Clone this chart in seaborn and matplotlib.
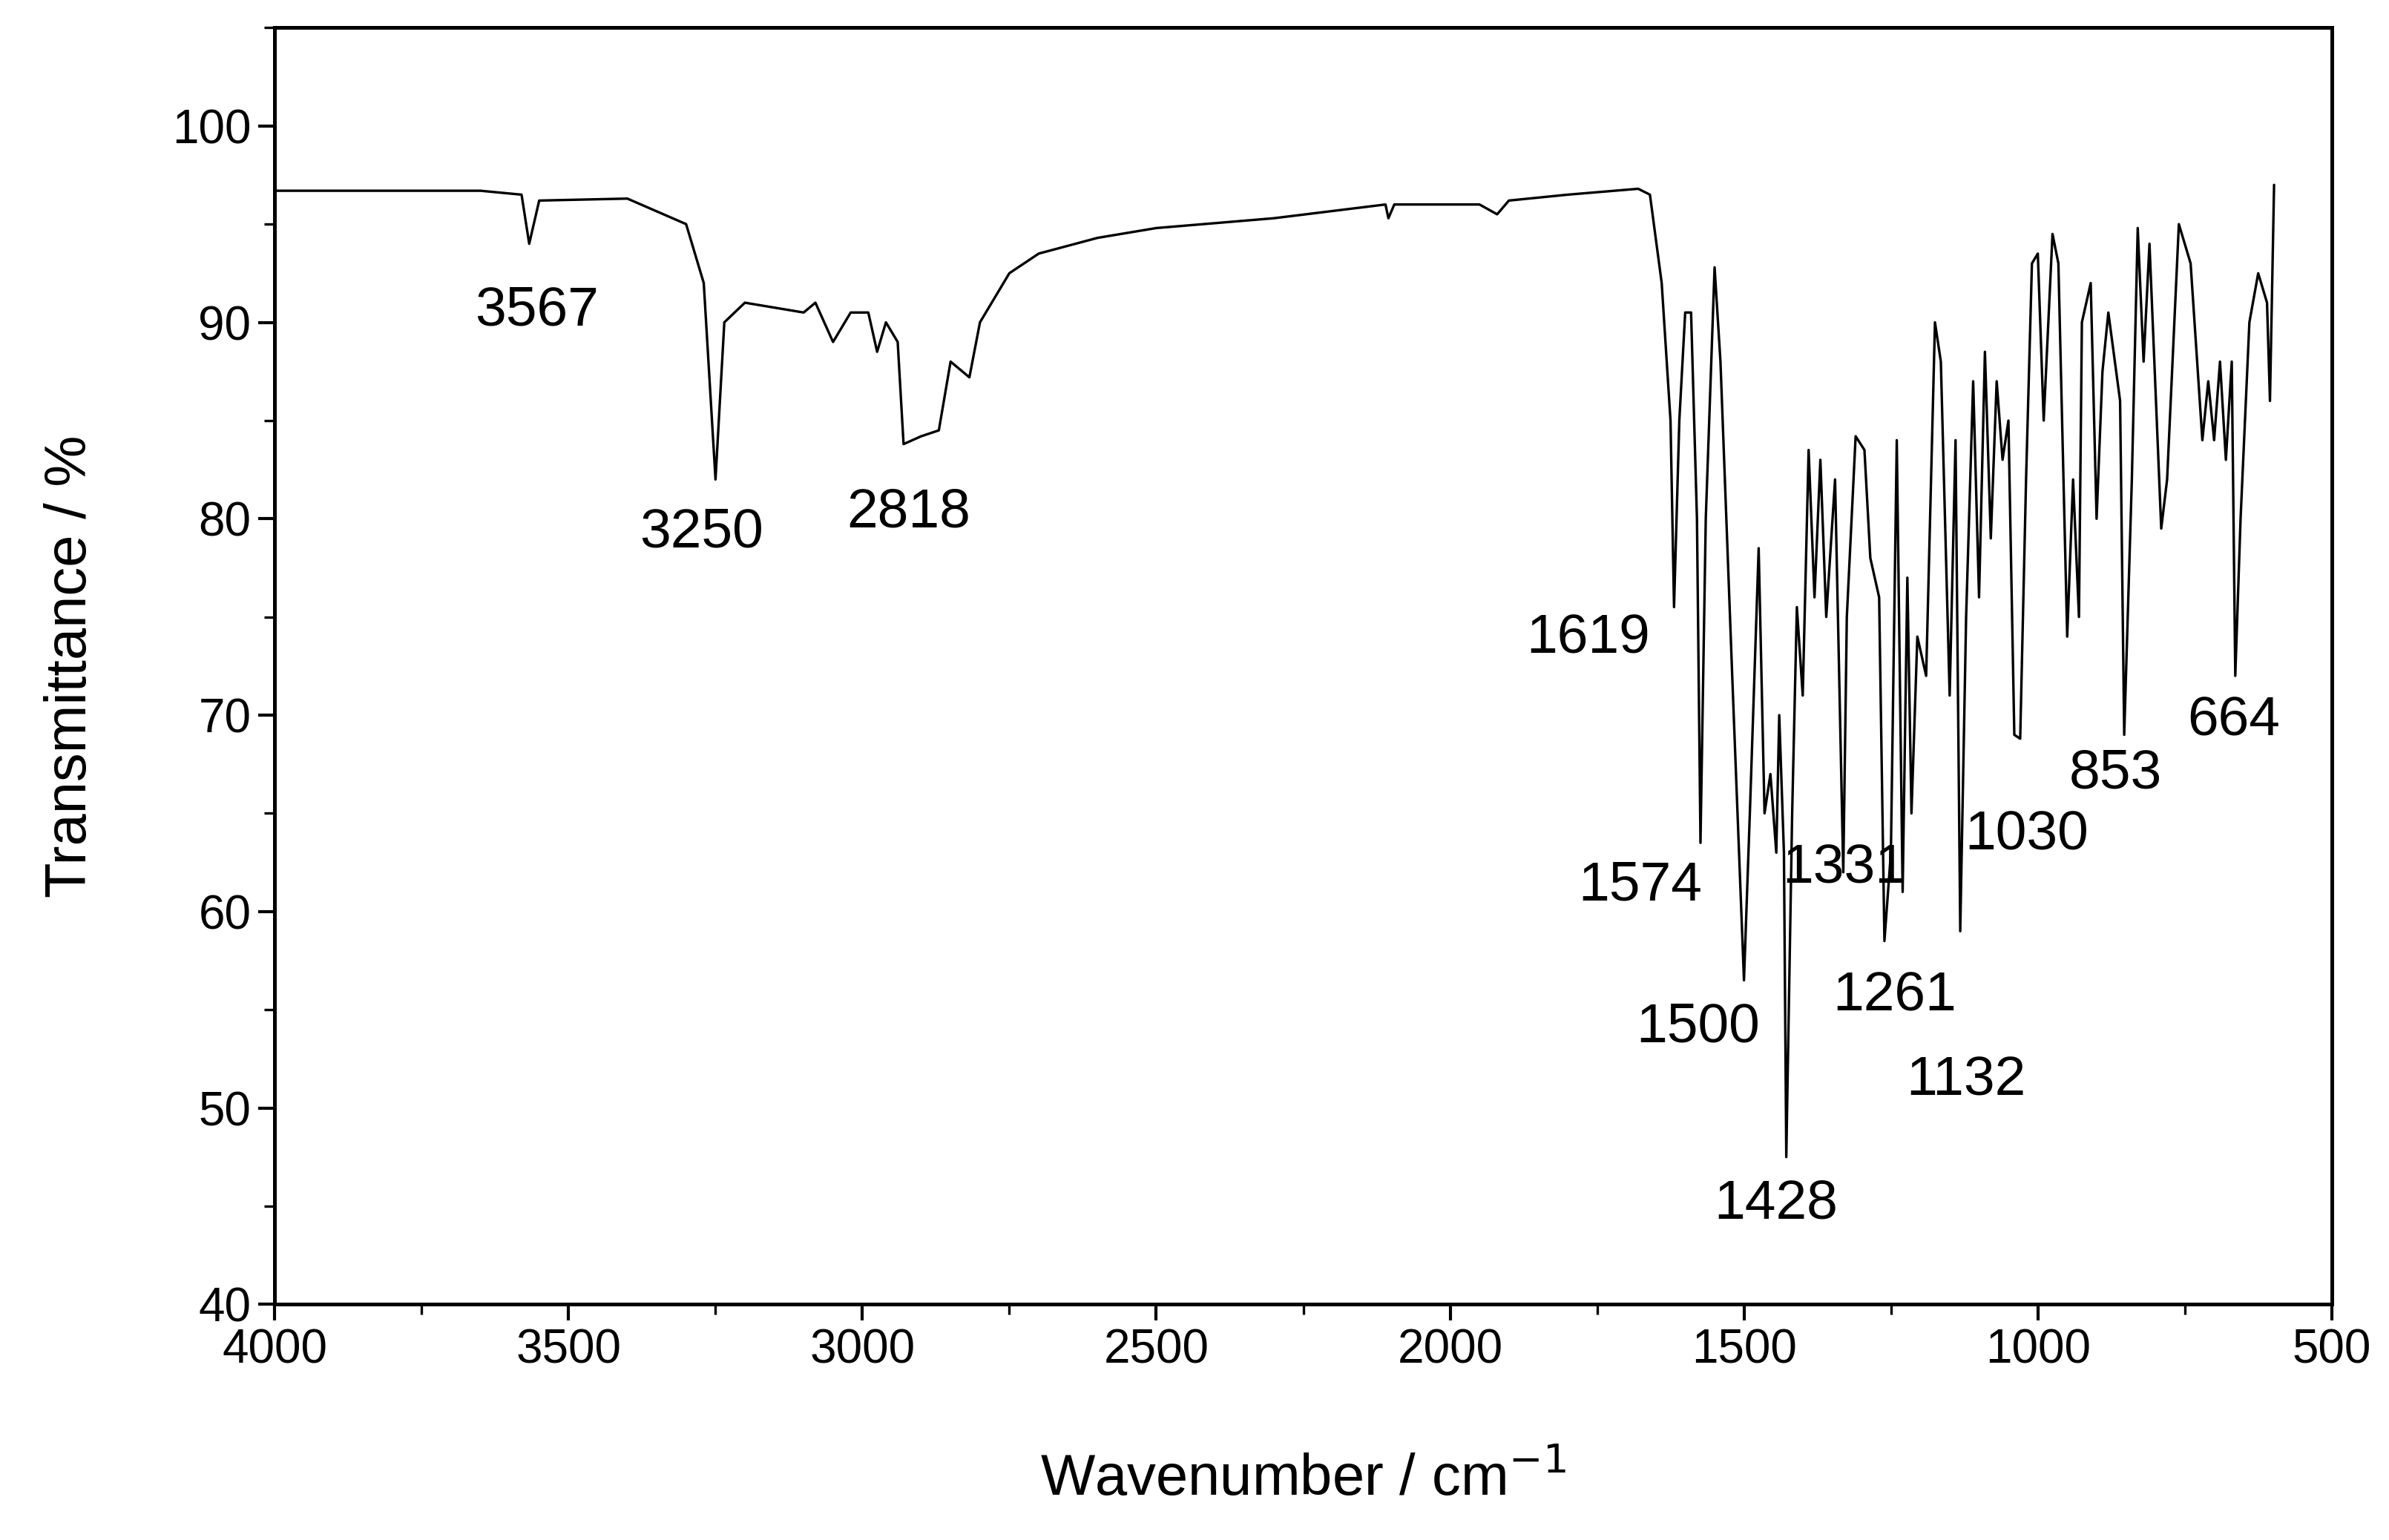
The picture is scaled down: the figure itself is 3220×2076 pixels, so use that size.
import matplotlib
matplotlib.use("Agg")
import matplotlib.pyplot as plt
import seaborn as sns
import pandas as pd
from matplotlib.ticker import MultipleLocator

wavenumber = [4000,3650,3580,3567,3550,3400,3300,3270,3250,3235,3200,3100,3080,3050,3020,2990,2975,2960,2940,2930,2900,2870,2850,2830,2818,2800,2750,2700,2600,2500,2300,2110,2105,2095,1950,1920,1900,1800,1680,1660,1640,1625,1619,1610,1600,1590,1580,1574,1565,1550,1540,1520,1500,1490,1475,1465,1455,1445,1440,1432,1428,1418,1410,1400,1390,1380,1370,1360,1345,1331,1325,1310,1295,1285,1270,1261,1250,1240,1230,1222,1215,1205,1190,1175,1165,1150,1140,1132,1122,1110,1100,1090,1080,1070,1060,1050,1040,1030,1020,1010,1000,990,975,965,950,940,930,925,910,900,890,880,860,853,840,830,820,810,790,780,760,740,720,710,700,690,680,670,664,655,640,625,610,605,598]
transmittance = [96.7,96.7,96.5,94.0,96.2,96.3,95,92,82,90,91,90.5,91,89,90.5,90.5,88.5,90,89,83.8,84.2,84.5,88,87.5,87.2,90,92.5,93.5,94.3,94.8,95.3,96,95.3,96,96,95.5,96.2,96.5,96.8,96.5,92,85,75.5,85,90.5,90.5,80,63.5,80,92.8,88,72,56.5,65,78.5,65,67,63,70,63,47.5,65,75.5,71,83.5,76,83,75,82,62,75,84.2,83.5,78,76,58.5,63,84,61,77,65,74,72,90,88,71,84,59,75,87,76,88.5,79,87,83,85,69,68.8,82,93,93.5,85,94.5,93,74,82,75,90,92,80,87.5,90.5,86,69,82,94.8,88,94,79.5,82,95,93,84,87,84,88,83,88,72,80,90,92.5,91,86,97]

peak_labels = ["3567","3250","2818","1619","1574","1500","1428","1331","1261","1132","1030","853","664"]
label_x = [3554,3274,2922,1765,1677,1578,1446,1330,1244,1122,1019,868,666]
label_y = [90.6,79.3,80.3,73.9,61.3,54.1,45.1,62.2,55.7,51.4,63.9,67,69.7]

sns.set_theme(style="ticks")
plt.rcParams['font.family'] = ['Liberation Sans', 'DejaVu Sans']
plt.rcParams['text.color'] = 'black'
plt.rcParams['axes.labelcolor'] = 'black'
plt.rcParams['xtick.color'] = 'black'
plt.rcParams['ytick.color'] = 'black'

fig = plt.figure(figsize=(16.1, 10.38), dpi=200)
ax = fig.add_axes([0.115, 0.153, 0.861, 0.829])
df = pd.DataFrame({"w": wavenumber, "t": transmittance})
sns.lineplot(data=df, x="w", y="t", ax=ax, color="black", linewidth=1.2, sort=False)
for s, x, y in zip(peak_labels, label_x, label_y):
    ax.text(x, y, s, ha="center", va="center", fontsize=27, color="black")

ax.set_xlim(4000, 500)
ax.set_ylim(40, 105)
ax.xaxis.set_major_locator(MultipleLocator(500))
ax.xaxis.set_minor_locator(MultipleLocator(250))
ax.set_yticks([40,50,60,70,80,90,100])
ax.yaxis.set_minor_locator(MultipleLocator(5))
ax.tick_params(which="major", length=8, width=1.5, labelsize=23, direction="out")
ax.tick_params(which="minor", length=5, width=1.2, direction="out")
for sp in ax.spines.values():
    sp.set_linewidth(1.8)
    sp.set_color("black")
ax.set_xlabel("Wavenumber / cm$^{-1}$", fontsize=28, labelpad=38)
ax.set_ylabel("Transmittance / %", fontsize=28, labelpad=36)
fig.savefig("out.png", dpi=200)
